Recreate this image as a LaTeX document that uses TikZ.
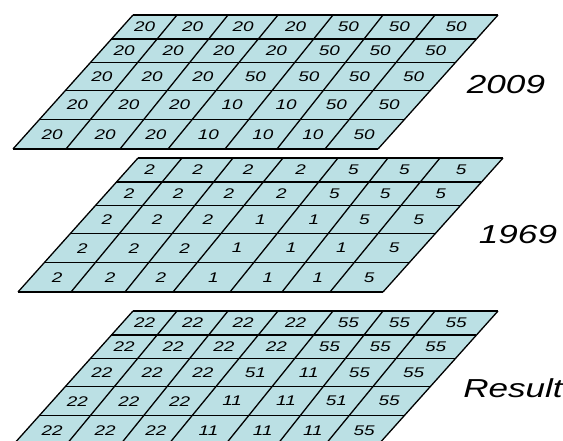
\documentclass[tikz,border=0pt]{standalone}
\usepackage{fontspec}
\newfontfamily\gridfont[FakeStretch=1.35]{Liberation Sans}
\definecolor{cellblue}{RGB}{187,224,228}
\tikzset{
  cellnum/.style={font=\gridfont\itshape\fontsize{14}{14}\selectfont,inner sep=0pt},
  layerlabel/.style={font=\gridfont\itshape\fontsize{26}{26}\selectfont,inner sep=0pt},
  gridline/.style={draw=black,line width=1.3pt},
}
% x positions of the slanted column lines, on the top and bottom edge of a layer
\def\topx{{133,177,228,278,333,383,435,498}}
\def\botx{{13,66,120,168,225,277,325,378}}
\def\rowf{{0,0.18,0.355,0.565,0.78,1}}
% #1 name, #2 shift right, #3 top edge, #4 rows of values
\newcommand{\drawlayer}[4]{%
  \fill[cellblue] (133+#2,#3) -- (498+#2,#3) -- (378+#2,#3+134) -- (13+#2,#3+134) -- cycle;
  \foreach \i in {0,...,7}{
    \pgfmathsetmacro\xt{\topx[\i]+#2}
    \pgfmathsetmacro\xb{\botx[\i]+#2}
    \draw[gridline] (\xt,#3) -- (\xb,#3+134);
  }
  \foreach \f in {0,0.18,0.355,0.565,0.78,1}{
    \draw[gridline] (133+#2-120*\f,#3+134*\f) -- (498+#2-120*\f,#3+134*\f);
  }
  \foreach \row [count=\r] in {#4}{
    \foreach \v [count=\c] in \row {
      \pgfmathtruncatemacro\rp{\r-1}
      \pgfmathtruncatemacro\cp{\c-1}
      \pgfmathsetmacro\fa{\rowf[\rp]}
      \pgfmathsetmacro\fb{\rowf[\r]}
      \pgfmathsetmacro\fm{(\fa+\fb)/2}
      \pgfmathsetmacro\ta{\topx[\cp]}
      \pgfmathsetmacro\ba{\botx[\cp]}
      \pgfmathsetmacro\tb{\topx[\c]}
      \pgfmathsetmacro\bb{\botx[\c]}
      \pgfmathsetmacro\cx{(\ta+(\ba-\ta)*\fm+\tb+(\bb-\tb)*\fm)/2+#2}
      \pgfmathsetmacro\cy{#3+134*\fm}
      \node[cellnum] (#1-\r-\c) at (\cx,\cy) {\v};
    }
  }
}
\begin{document}
\begin{tikzpicture}[x=1pt,y=-1pt]
\useasboundingbox (0,0) rectangle (563,441);
\clip (0,0) rectangle (563,441);
\drawlayer{y2009}{0}{15}{{20,20,20,20,50,50,50},{20,20,20,20,50,50,50},{20,20,20,50,50,50,50},{20,20,20,10,10,50,50},{20,20,20,10,10,10,50}}
\drawlayer{y1969}{5}{158}{{2,2,2,2,5,5,5},{2,2,2,2,5,5,5},{2,2,2,1,1,5,5},{2,2,2,1,1,1,5},{2,2,2,1,1,1,5}}
\drawlayer{res}{0}{311}{{22,22,22,22,55,55,55},{22,22,22,22,55,55,55},{22,22,22,51,11,55,55},{22,22,22,11,11,51,55},{22,22,22,11,11,11,55}}
\node[layerlabel] (lbl2009) at (506,85) {2009};
\node[layerlabel] (lbl1969) at (518,235) {1969};
\node[layerlabel] (lblres) at (513,388) {Result};
\end{tikzpicture}
\end{document}
